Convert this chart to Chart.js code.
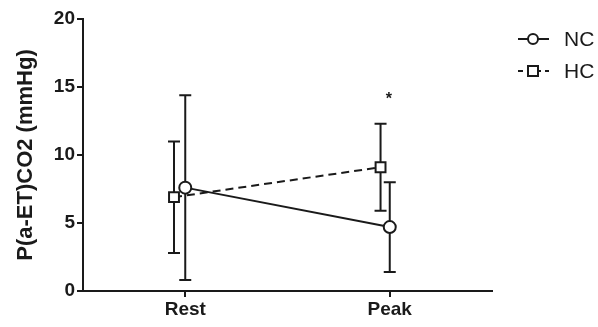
<!DOCTYPE html>
<html>
<head>
<meta charset="utf-8">
<script src="https://cdn.jsdelivr.net/npm/chart.js@4"></script>
<style>
  body { margin: 0; background: #fff; }
  #wrap { width: 598px; height: 327px; }
</style>
</head>
<body>
<div id="wrap"><canvas id="chart" width="598" height="327"></canvas></div>
<script>
// data
var categories = ['Rest', 'Peak'];
var ncX = [0, 1];
var hcX = [-0.055, 0.955];
var ncMean = [7.6, 4.7];
var ncUpper = [14.4, 8.0];
var ncLower = [0.8, 1.4];
var hcMean = [6.9, 9.1];
var hcUpper = [11.0, 12.3];
var hcLower = [2.8, 5.9];
var yTicks = [0, 5, 10, 15, 20];
var starX = 1;
var starY = 14.3;

var ink = '#1a1a1a';
var fam = '"Liberation Sans", Arial, sans-serif';

function toPoints(xs, ys) {
    return xs.map(function(x, i) { return {x: x, y: ys[i]}; });
}

// error bars, significance star and the legend
var extras = {
    id: 'extras',
    beforeDatasetsDraw: function(chart) {
        var ctx = chart.ctx, xs = chart.scales.x, ys = chart.scales.y;
        ctx.save();
        ctx.strokeStyle = ink;
        ctx.lineWidth = 2;
        function bars(xv, lo, hi) {
            xv.forEach(function(x, i) {
                var px = xs.getPixelForValue(x);
                var top = ys.getPixelForValue(hi[i]);
                var bot = ys.getPixelForValue(lo[i]);
                ctx.beginPath();
                ctx.moveTo(px, top); ctx.lineTo(px, bot);
                ctx.moveTo(px - 6, top); ctx.lineTo(px + 6, top);
                ctx.moveTo(px - 6, bot); ctx.lineTo(px + 6, bot);
                ctx.stroke();
            });
        }
        bars(hcX, hcLower, hcUpper);
        bars(ncX, ncLower, ncUpper);
        ctx.restore();
    },
    afterDraw: function(chart) {
        var ctx = chart.ctx, xs = chart.scales.x, ys = chart.scales.y;
        ctx.save();
        ctx.fillStyle = ink;
        ctx.font = 'bold 16px ' + fam;
        ctx.textAlign = 'center';
        ctx.textBaseline = 'middle';
        ctx.fillText('*', xs.getPixelForValue(starX) - 1, ys.getPixelForValue(starY) + 3);

        // legend
        var rows = [
            {label: 'NC', y: 39, dash: [], shape: 'circle'},
            {label: 'HC', y: 71, dash: [5, 4], shape: 'rect'}
        ];
        rows.forEach(function(r) {
            ctx.strokeStyle = ink;
            ctx.lineWidth = 2;
            ctx.setLineDash(r.dash);
            ctx.beginPath();
            ctx.moveTo(518, r.y); ctx.lineTo(549, r.y);
            ctx.stroke();
            ctx.setLineDash([]);
            ctx.fillStyle = '#fff';
            ctx.beginPath();
            if (r.shape === 'circle') ctx.arc(533, r.y, 5, 0, Math.PI * 2);
            else ctx.rect(528, r.y - 5, 10, 10);
            ctx.fill();
            ctx.stroke();
            ctx.fillStyle = ink;
            ctx.font = '21px ' + fam;
            ctx.textAlign = 'left';
            ctx.fillText(r.label, 564, r.y + 1);
        });
        ctx.restore();
    }
};

new Chart(document.getElementById('chart'), {
    type: 'scatter',
    data: {
        datasets: [{
            label: 'HC',
            data: toPoints(hcX, hcMean),
            showLine: true,
            borderColor: ink,
            borderWidth: 2,
            borderDash: [8, 5],
            pointStyle: 'rect',
            pointRadius: 7,
            pointBorderWidth: 2,
            pointBackgroundColor: '#fff',
            pointBorderColor: ink
        }, {
            label: 'NC',
            data: toPoints(ncX, ncMean),
            showLine: true,
            borderColor: ink,
            borderWidth: 2,
            pointStyle: 'circle',
            pointRadius: 6,
            pointBorderWidth: 2,
            pointBackgroundColor: '#fff',
            pointBorderColor: ink
        }]
    },
    options: {
        responsive: false,
        animation: false,
        layout: { padding: { left: 0, right: 106, top: 19, bottom: 0 } },
        plugins: { legend: { display: false }, tooltip: { enabled: false } },
        scales: {
            x: {
                type: 'linear',
                min: -0.5,
                max: 1.5,
                afterBuildTicks: function(axis) {
                    axis.ticks = ncX.map(function(v) { return {value: v}; });
                },
                afterFit: function(axis) { axis.height = 36; },
                ticks: {
                    color: ink,
                    padding: 1,
                    font: { family: fam, size: 19, weight: 'bold' },
                    callback: function(v) {
                        var i = ncX.indexOf(v);
                        return i >= 0 ? categories[i] : '';
                    }
                },
                grid: { drawOnChartArea: false, color: ink, lineWidth: 2, tickLength: 6 },
                border: { color: ink, width: 2 }
            },
            y: {
                min: 0,
                max: 20,
                afterBuildTicks: function(axis) {
                    axis.ticks = yTicks.map(function(v) { return {value: v}; });
                },
                afterFit: function(axis) { axis.width = 83; },
                ticks: {
                    color: ink,
                    padding: 2,
                    font: { family: fam, size: 19, weight: 'bold' }
                },
                grid: { drawOnChartArea: false, color: ink, lineWidth: 2, tickLength: 6 },
                border: { color: ink, width: 2 },
                title: {
                    display: true,
                    text: 'P(a-ET)CO2 (mmHg)',
                    color: ink,
                    padding: { top: 13, bottom: 0 },
                    font: { family: fam, size: 22, weight: 'bold' }
                }
            }
        }
    },
    plugins: [extras]
});
</script>
</body>
</html>
